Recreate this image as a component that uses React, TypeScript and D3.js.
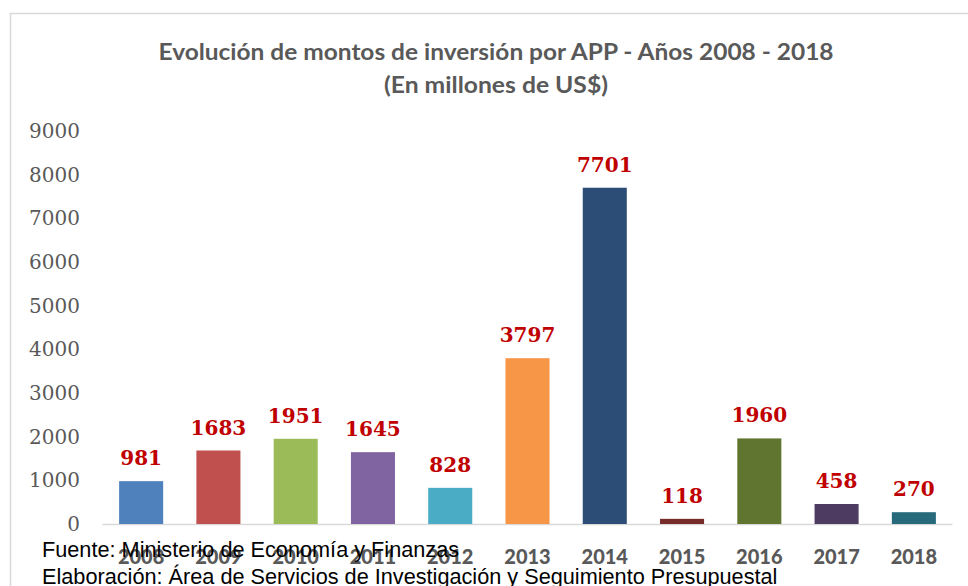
import React from "react";
import * as d3 from "d3";

const years = ["2008","2009","2010","2011","2012","2013","2014","2015","2016","2017","2018"];
const amounts = [981, 1683, 1951, 1645, 828, 3797, 7701, 118, 1960, 458, 270];
const barColors = ["#4f81bd","#c0504d","#9bbb59","#8064a2","#4bacc6","#f79646","#2c4d75","#772c2a","#5f7530","#4d3b62","#276a7c"];
const yTicks = [0,1000,2000,3000,4000,5000,6000,7000,8000,9000];
const titleLines = ["Evolución de montos de inversión por APP - Años 2008 - 2018", "(En millones de US$)"];
const notes = ["Fuente: Ministerio de Economía y Finanzas", "Elaboración: Área de Servicios de Investigación y Seguimiento Presupuestal"];

const W = 968, H = 586;

export default function App() {
  const x = d3.scaleBand<string>().domain(years).range([102.5, 952.5]).paddingInner(0.43).paddingOuter(0.215);
  const y = d3.scaleLinear().domain([0, 9000]).range([524, 131]);
  const bw = x.bandwidth();
  return (
    <svg width={W} height={H} style={{ position: "absolute", left: 0, top: 0, background: "#fff" }}>
      <rect x={10.5} y={13.5} width={W + 20} height={H + 20} fill="#fff" stroke="#d9d9d9" strokeWidth={1.5} />
      <text x={496} y={60} textAnchor="middle" fontFamily="Lato, 'Open Sans', sans-serif" fontWeight={700} fontSize={23} fill="#595959" textLength={675} lengthAdjust="spacingAndGlyphs">{titleLines[0]}</text>
      <text x={496} y={93} textAnchor="middle" fontFamily="Lato, 'Open Sans', sans-serif" fontWeight={700} fontSize={23} fill="#595959" textLength={224} lengthAdjust="spacingAndGlyphs">{titleLines[1]}</text>
      {yTicks.map(v => (
        <text key={v} x={80} y={y(v) + 7} textAnchor="end" fontFamily="'DejaVu Serif', serif" fontSize={20} fill="#595959">{v}</text>
      ))}
      <line x1={102.5} x2={952.5} y1={y(0) + 0.5} y2={y(0) + 0.5} stroke="#d9d9d9" strokeWidth={1.5} />
      {years.map((yr, i) => (
        <g key={yr}>
          <rect x={x(yr)} y={y(amounts[i])} width={bw} height={y(0) - y(amounts[i])} fill={barColors[i]} />
          <text x={x(yr)! + bw / 2} y={y(amounts[i]) - 16} textAnchor="middle" fontFamily="'DejaVu Serif', serif" fontWeight={700} fontSize={20} fill="#c00000">{amounts[i]}</text>
          <text x={x(yr)! + bw / 2} y={564} textAnchor="middle" fontFamily="Lato, 'Open Sans', sans-serif" fontWeight={900} fontSize={20} fill="#595959">{yr}</text>
        </g>
      ))}
      {notes.map((t, i) => (
        <text key={i} x={42} y={557 + i * 27} fontFamily="'Liberation Sans', Arial, sans-serif" fontSize={21.7} fill="#000">{t}</text>
      ))}
    </svg>
  );
}
